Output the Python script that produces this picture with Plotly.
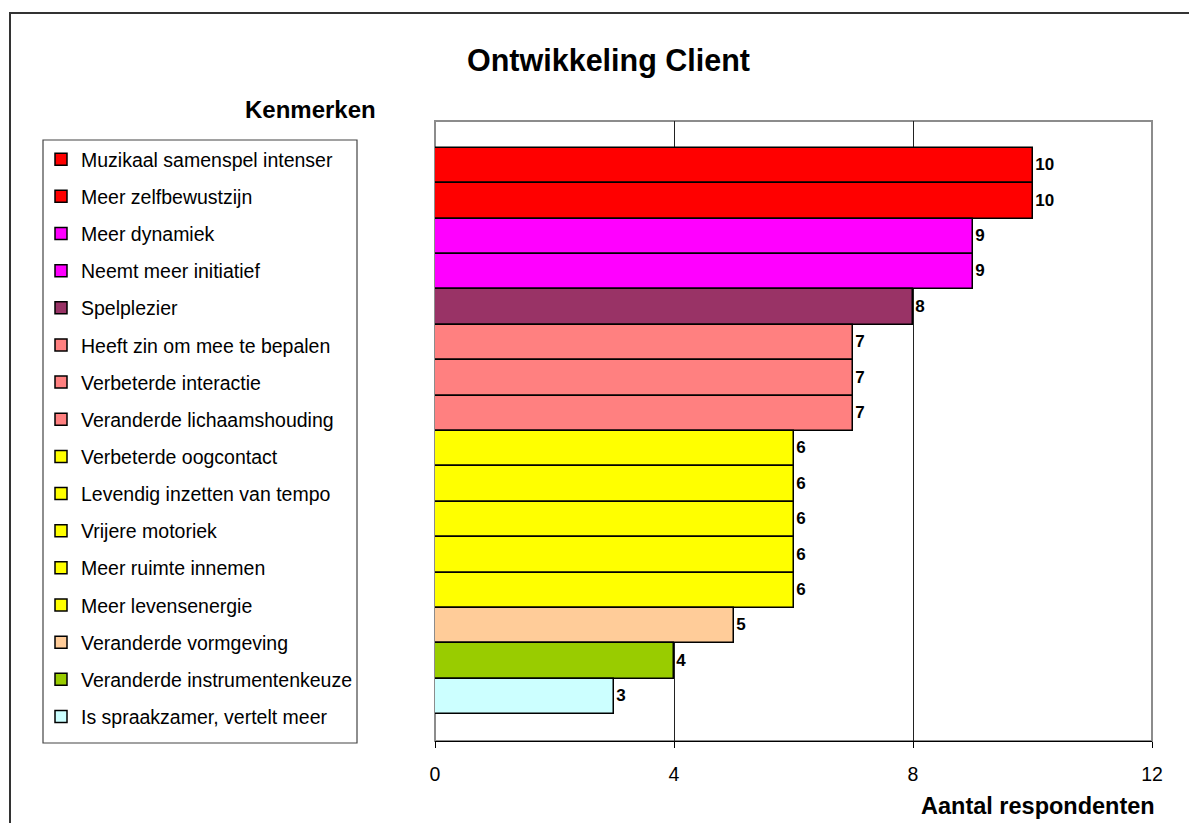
import plotly.graph_objects as go

categories = [
    "Muzikaal samenspel intenser",
    "Meer zelfbewustzijn",
    "Meer dynamiek",
    "Neemt meer initiatief",
    "Spelplezier",
    "Heeft zin om mee te bepalen",
    "Verbeterde interactie",
    "Veranderde lichaamshouding",
    "Verbeterde oogcontact",
    "Levendig inzetten van tempo",
    "Vrijere motoriek",
    "Meer ruimte innemen",
    "Meer levensenergie",
    "Veranderde vormgeving",
    "Veranderde instrumentenkeuze",
    "Is spraakzamer, vertelt meer",
]
values = [10, 10, 9, 9, 8, 7, 7, 7, 6, 6, 6, 6, 6, 5, 4, 3]
colors = [
    "#FF0000", "#FF0000", "#FF00FF", "#FF00FF", "#993366",
    "#FF8080", "#FF8080", "#FF8080",
    "#FFFF00", "#FFFF00", "#FFFF00", "#FFFF00", "#FFFF00",
    "#FFCC99", "#99CC00", "#CCFFFF",
]
x_ticks = [0, 4, 8, 12]

FONT = "Arial, Liberation Sans, sans-serif"

fig = go.Figure()
for i, (cat, val, col) in enumerate(zip(categories, values, colors)):
    fig.add_trace(go.Bar(
        x=[val], y=[cat], orientation="h", name=cat,
        legendgroup=f"g{i}",
        marker=dict(color=col, line=dict(color="black", width=1.5)),
        text=[val], texttemplate="<b>%{x}</b>", textposition="outside",
        textfont=dict(family=FONT, size=17, color="black"),
        cliponaxis=False,
    ))

W, H = 1189, 823
L, R, T, B = 435, 1189 - 1152, 121, 823 - 741
pw, ph = W - L - R, H - T - B

def px(x):
    return (x - L) / pw

def py(y):
    return (H - B - y) / ph

fig.update_layout(
    width=W, height=H,
    margin=dict(l=L, r=R, t=T, b=B),
    paper_bgcolor="white", plot_bgcolor="white",
    barmode="relative", bargap=0,
    font=dict(family=FONT, size=19.5, color="black"),
    showlegend=True,
    legend=dict(
        x=px(41), y=py(140), xanchor="left", yanchor="top",
        borderwidth=0, bgcolor="rgba(0,0,0,0)",
        font=dict(family=FONT, size=19.5, color="black"),
        traceorder="grouped", tracegroupgap=8.8,
    ),
    xaxis=dict(
        range=[0, 12], tickvals=x_ticks, ticktext=[str(t) for t in x_ticks],
        showgrid=True, gridcolor="#222", gridwidth=1,
        showline=True, linecolor="black", linewidth=1,
        ticks="outside", ticklen=6, tickcolor="black",
        ticklabelstandoff=10, zeroline=False,
        tickfont=dict(family=FONT, size=19.5, color="black"),
    ),
    yaxis=dict(
        categoryorder="array", categoryarray=categories,
        range=[16.26, -1.26], showticklabels=False, showgrid=False,
        zeroline=False, showline=False,
    ),
    shapes=[
        dict(type="rect", xref="paper", yref="paper", x0=0, x1=1, y0=0, y1=1,
             line=dict(color="#8c8c8c", width=2), layer="below"),
        dict(type="rect", xref="paper", yref="paper",
             x0=px(10), x1=px(1250), y0=py(13), y1=py(900),
             line=dict(color="#333", width=2)),
        dict(type="rect", xref="paper", yref="paper",
             x0=px(43), x1=px(357), y0=py(140), y1=py(743),
             line=dict(color="#444", width=1.2)),
    ],
    annotations=[
        dict(text="<b>Ontwikkeling Client</b>", xref="paper", yref="paper",
             x=px(608), y=py(60), xanchor="center", yanchor="middle",
             showarrow=False,
             font=dict(family=FONT, size=30.5, color="black")),
        dict(text="<b>Kenmerken</b>", xref="paper", yref="paper",
             x=px(310), y=py(110), xanchor="center", yanchor="middle",
             showarrow=False,
             font=dict(family=FONT, size=24, color="black")),
        dict(text="<b>Aantal respondenten</b>", xref="paper", yref="paper",
             x=px(1038), y=py(806), xanchor="center", yanchor="middle",
             showarrow=False,
             font=dict(family=FONT, size=23.5, color="black")),
    ],
)

fig.write_html("out.html")
